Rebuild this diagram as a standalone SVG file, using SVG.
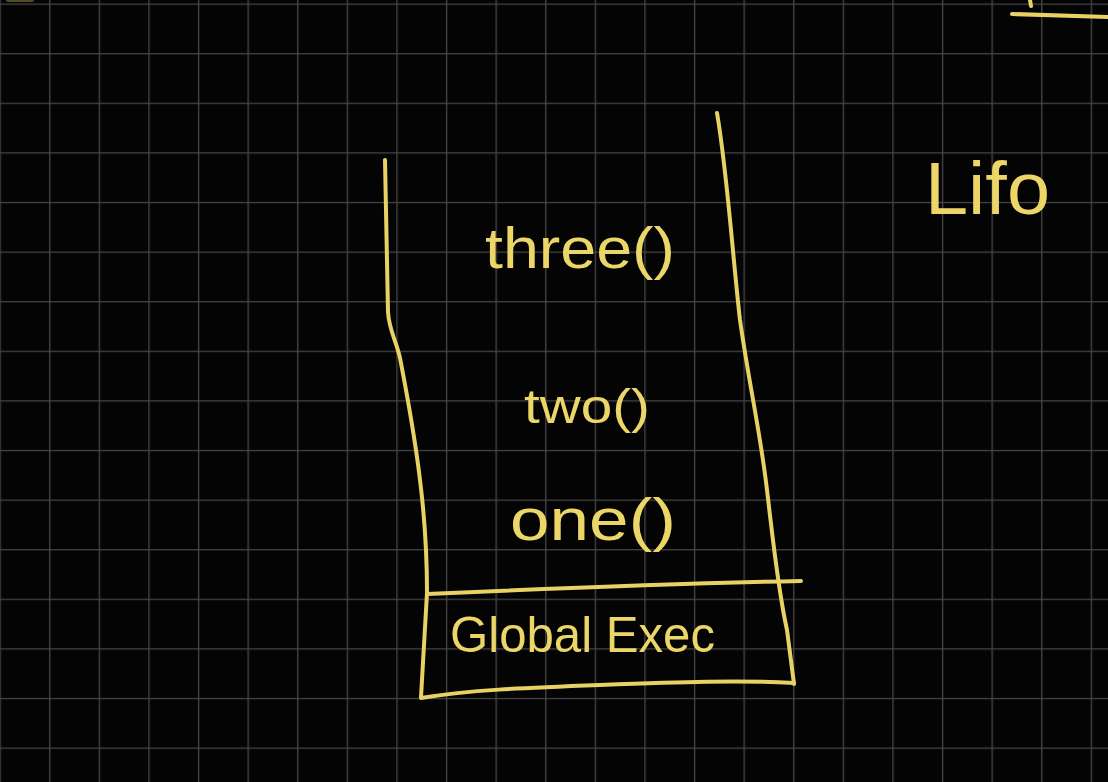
<svg xmlns="http://www.w3.org/2000/svg" width="1108" height="782" viewBox="0 0 1108 782">
  <defs>
    <pattern id="grid" patternUnits="userSpaceOnUse" x="-0.5" y="3.5" width="49.6" height="49.6">
      <rect x="0" y="0" width="49.6" height="49.6" fill="#040404"/>
      <line x1="0" y1="0" x2="49.6" y2="0" stroke="#464648" stroke-width="2.6"/>
      <line x1="0" y1="0" x2="0" y2="49.6" stroke="#464648" stroke-width="2.6"/>
    </pattern>
    <style>
      .ink { fill: none; stroke: #e8d264; stroke-width: 4; stroke-linecap: round; stroke-linejoin: round; }
      .hand { fill: #ecd668; font-family: "Liberation Sans", "DejaVu Sans", sans-serif; }
    </style>
  </defs>

  <rect width="1108" height="782" fill="url(#grid)"/>

  <g id="scraps">
    <path class="ink" d="M1030 0 L1031 6"/>
    <path class="ink" d="M1012 14 L1108 17"/>
    <path class="ink" d="M8 0 L32 0" stroke-opacity="0.35" stroke-width="2"/>
  </g>

  <g id="stack">
    <path class="ink" d="M385 160 L388 312 C389 330 396 340 400 358 C407 395 414 430 420 480 C425 520 427 560 427 593 L421 697"/>
    <path class="ink" d="M717 113 C727 170 733 260 740 320 C750 390 760 430 767 490 C773 540 778 590 787 630 L794 684"/>
    <path class="ink" d="M427 594 C560 588 700 583 801 581"/>
    <path class="ink" d="M421 698 C470 690 520 688 600 685 C680 682 740 680 794 683"/>
  </g>

  <g id="connectors"></g>

  <g id="node-three">
    <text class="hand" x="485" y="268" font-size="58" textLength="190" lengthAdjust="spacingAndGlyphs">three()</text>
  </g>
  <g id="node-two">
    <text class="hand" x="524" y="423" font-size="48" textLength="126" lengthAdjust="spacingAndGlyphs">two()</text>
  </g>
  <g id="node-one">
    <text class="hand" x="510" y="540" font-size="60" textLength="166" lengthAdjust="spacingAndGlyphs">one()</text>
  </g>
  <g id="node-global">
    <text class="hand" x="450" y="652" font-size="50" textLength="265" lengthAdjust="spacingAndGlyphs">Global Exec</text>
  </g>
  <g id="node-lifo">
    <text class="hand" x="925" y="214" font-size="74" textLength="125" lengthAdjust="spacingAndGlyphs">Lifo</text>
  </g>
</svg>
